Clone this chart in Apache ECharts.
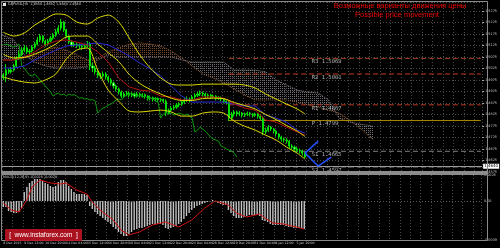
<!DOCTYPE html>
<html><head><meta charset="utf-8">
<script src="https://cdn.jsdelivr.net/npm/echarts@6/dist/echarts.min.js"></script>
<style>html,body{margin:0;padding:0;background:#000;}#c{width:500px;height:248px;}</style>
</head><body><div id="c"></div>
<script>
// ---------- DATA ----------
const xTickLabels = ["8 Dec 2015","9 Dec 12:00","10 Dec 20:00","14 Dec 04:00","15 Dec 12:00","16 Dec 20:00","18 Dec 04:00","21 Dec 12:00","22 Dec 20:00","24 Dec 04:00","28 Dec 12:00","29 Dec 20:00","31 Dec 04:00","4 Jan 12:00","5 Jan 20:00"];
const barsPerLabel = 8;
const slotCount = 183;
const priceMin = 1.4575, priceMax = 1.5314, priceStep = 0.005;
// [open, close, low, high]
const ohlc = [
[1.4985,1.4996,1.4975,1.5005],[1.4996,1.5018,1.4966,1.5044],[1.5018,1.5010,1.5001,1.5027],[1.5010,1.5018,1.5003,1.5031],
[1.5018,1.5036,1.5012,1.5045],[1.5036,1.5070,1.5030,1.5079],[1.5070,1.5088,1.5062,1.5101],[1.5088,1.5105,1.5079,1.5118],
[1.5105,1.5114,1.5096,1.5127],[1.5114,1.5097,1.5088,1.5122],[1.5097,1.5101,1.5085,1.5110],[1.5101,1.5118,1.5094,1.5127],
[1.5118,1.5131,1.5110,1.5140],[1.5131,1.5149,1.5125,1.5162],[1.5149,1.5166,1.5140,1.5175],[1.5166,1.5144,1.5135,1.5170],
[1.5144,1.5131,1.5120,1.5150],[1.5131,1.5144,1.5125,1.5153],[1.5144,1.5157,1.5138,1.5166],[1.5157,1.5170,1.5150,1.5179],
[1.5170,1.5184,1.5162,1.5196],[1.5184,1.5201,1.5175,1.5214],[1.5201,1.5227,1.5190,1.5240],[1.5227,1.5192,1.5183,1.5231],
[1.5192,1.5166,1.5157,1.5197],[1.5166,1.5140,1.5131,1.5170],[1.5140,1.5127,1.5118,1.5148],[1.5127,1.5131,1.5118,1.5140],
[1.5131,1.5127,1.5114,1.5138],[1.5127,1.5123,1.5110,1.5135],[1.5123,1.5118,1.5105,1.5131],[1.5118,1.5123,1.5110,1.5133],
[1.5123,1.5131,1.5116,1.5144],[1.5131,1.5036,1.5018,1.5140],[1.5036,1.5027,1.5010,1.5049],[1.5027,1.5010,1.4999,1.5036],
[1.5010,1.4996,1.4985,1.5018],[1.4996,1.4992,1.4979,1.5005],[1.4992,1.5001,1.4985,1.5012],[1.5001,1.4988,1.4977,1.5009],
[1.4988,1.4975,1.4964,1.4994],[1.4975,1.4962,1.4951,1.4983],[1.4962,1.4949,1.4938,1.4968],[1.4949,1.4936,1.4925,1.4955],
[1.4936,1.4923,1.4912,1.4942],[1.4923,1.4905,1.4896,1.4929],[1.4905,1.4914,1.4899,1.4922],[1.4914,1.4918,1.4905,1.4927],
[1.4918,1.4909,1.4899,1.4925],[1.4909,1.4914,1.4901,1.4922],[1.4914,1.4905,1.4896,1.4920],[1.4905,1.4914,1.4899,1.4923],
[1.4914,1.4909,1.4899,1.4920],[1.4909,1.4911,1.4899,1.4918],[1.4911,1.4905,1.4894,1.4916],[1.4905,1.4896,1.4886,1.4909],
[1.4896,1.4898,1.4886,1.4905],[1.4898,1.4892,1.4881,1.4903],[1.4892,1.4894,1.4883,1.4901],[1.4894,1.4888,1.4879,1.4899],
[1.4888,1.4890,1.4879,1.4896],[1.4890,1.4883,1.4875,1.4894],[1.4883,1.4831,1.4818,1.4890],[1.4831,1.4844,1.4825,1.4851],
[1.4844,1.4853,1.4836,1.4862],[1.4853,1.4857,1.4844,1.4866],[1.4857,1.4866,1.4849,1.4875],[1.4866,1.4870,1.4857,1.4879],
[1.4870,1.4879,1.4862,1.4888],[1.4879,1.4888,1.4870,1.4896],[1.4888,1.4892,1.4879,1.4903],[1.4892,1.4888,1.4877,1.4899],
[1.4888,1.4901,1.4881,1.4909],[1.4901,1.4909,1.4892,1.4918],[1.4909,1.4914,1.4901,1.4923],[1.4914,1.4918,1.4905,1.4929],
[1.4918,1.4914,1.4903,1.4925],[1.4914,1.4905,1.4896,1.4920],[1.4905,1.4909,1.4896,1.4916],[1.4909,1.4901,1.4892,1.4914],
[1.4901,1.4905,1.4894,1.4912],[1.4905,1.4896,1.4886,1.4909],[1.4896,1.4898,1.4888,1.4905],[1.4898,1.4892,1.4881,1.4903],
[1.4892,1.4883,1.4873,1.4896],[1.4883,1.4879,1.4868,1.4890],[1.4879,1.4809,1.4796,1.4886],[1.4809,1.4827,1.4801,1.4836],
[1.4827,1.4836,1.4818,1.4844],[1.4836,1.4827,1.4816,1.4842],[1.4827,1.4831,1.4818,1.4840],[1.4831,1.4822,1.4812,1.4836],
[1.4822,1.4827,1.4814,1.4833],[1.4827,1.4831,1.4818,1.4838],[1.4831,1.4827,1.4816,1.4836],[1.4827,1.4822,1.4812,1.4831],
[1.4822,1.4827,1.4814,1.4833],[1.4827,1.4818,1.4807,1.4831],[1.4818,1.4809,1.4798,1.4825],[1.4809,1.4749,1.4735,1.4818],
[1.4749,1.4757,1.4740,1.4768],[1.4757,1.4770,1.4749,1.4779],[1.4770,1.4762,1.4753,1.4775],[1.4762,1.4753,1.4742,1.4766],
[1.4753,1.4740,1.4729,1.4757],[1.4740,1.4727,1.4716,1.4744],[1.4727,1.4718,1.4707,1.4733],[1.4718,1.4714,1.4703,1.4725],
[1.4714,1.4709,1.4699,1.4722],[1.4709,1.4688,1.4677,1.4714],[1.4688,1.4683,1.4673,1.4696],[1.4683,1.4675,1.4664,1.4690],
[1.4675,1.4670,1.4660,1.4683],[1.4670,1.4666,1.4655,1.4677],[1.4666,1.4657,1.4647,1.4670],[1.4657,1.4640,1.4636,1.4662]
];
const bandIdx = [0,4,8,12,16,20,24,28,32,36,40,44,48,52,56,60,64,68,72,76,80,84,88,92,96,100,104,108,112,115];
const bbUpper = [1.5183,1.5166,1.5179,1.5214,1.5240,1.5262,1.5257,1.5227,1.5218,1.5244,1.5257,1.5227,1.5157,1.5084,1.5027,1.4984,1.4957,1.4953,1.4953,1.4957,1.4957,1.4957,1.4957,1.4953,1.4940,1.4914,1.4892,1.4870,1.4849,1.4827];
const bbMiddle = [1.5086,1.5071,1.5073,1.5088,1.5107,1.5131,1.5162,1.5166,1.5166,1.5131,1.5094,1.5055,1.4999,1.4960,1.4934,1.4914,1.4896,1.4886,1.4886,1.4894,1.4896,1.4894,1.4877,1.4864,1.4849,1.4825,1.4803,1.4777,1.4753,1.4729];
const bbLower = [1.4988,1.4975,1.4966,1.4962,1.4975,1.5001,1.5066,1.5105,1.5114,1.5018,1.4931,1.4883,1.4840,1.4836,1.4840,1.4844,1.4836,1.4818,1.4818,1.4831,1.4836,1.4831,1.4796,1.4774,1.4757,1.4735,1.4714,1.4683,1.4657,1.4631];
const tenkan = [1.5062,1.5062,1.5075,1.5097,1.5127,1.5144,1.5149,1.5140,1.5127,1.5097,1.5053,1.4984,1.4945,1.4931,1.4927,1.4905,1.4901,1.4888,1.4888,1.4901,1.4901,1.4896,1.4870,1.4853,1.4844,1.4801,1.4792,1.4770,1.4749,1.4735];
const kijun = [1.5027,1.5027,1.5036,1.5062,1.5084,1.5105,1.5123,1.5127,1.5131,1.5136,1.5127,1.5105,1.5079,1.5049,1.5023,1.4992,1.4949,1.4905,1.4879,1.4879,1.4879,1.4879,1.4870,1.4862,1.4862,1.4822,1.4809,1.4792,1.4757,1.4744];
const chikouShift = 26;
const cloudIdx = [0,4,8,12,16,20,24,28,32,36,40,44,48,52,56,60,64,68,72,76,80,84,88,92,96,100,104,108,112,116,120,124,128,132,136,141];
const spanA = [1.5062,1.5062,1.5071,1.5084,1.5105,1.5118,1.5105,1.5084,1.5062,1.5071,1.5097,1.5114,1.5131,1.5136,1.5131,1.5123,1.5101,1.5071,1.5036,1.5001,1.4984,1.4962,1.4936,1.4909,1.4888,1.4888,1.4888,1.4888,1.4879,1.4866,1.4857,1.4844,1.4831,1.4801,1.4766,1.4714];
const spanB = [1.5170,1.5149,1.5084,1.5053,1.5036,1.5027,1.5027,1.5027,1.5032,1.5062,1.5084,1.5075,1.5075,1.5075,1.5075,1.5075,1.5075,1.5062,1.5053,1.5053,1.5053,1.5053,1.5018,1.5018,1.5018,1.5010,1.4975,1.4953,1.4931,1.4923,1.4918,1.4888,1.4809,1.4792,1.4783,1.4774];
const macdHist = [-0.0006,-0.0006,-0.0010,-0.0011,-0.0012,-0.0012,-0.0011,-0.0007,0.0009,0.0014,0.0018,0.0020,0.0022,0.0022,0.0022,0.0020,
0.0018,0.0017,0.0015,0.0014,0.0015,0.0019,0.0021,0.0021,0.0019,0.0015,0.0012,0.0009,0.0007,0.0007,0.0007,0.0007,
0.0006,-0.0005,-0.0008,-0.0011,-0.0013,-0.0015,-0.0017,-0.0019,-0.0021,-0.0023,-0.0026,-0.0028,-0.0031,-0.0033,-0.0035,-0.0035,
-0.0033,-0.0031,-0.0029,-0.0028,-0.0027,-0.0027,-0.0026,-0.0025,-0.0024,-0.0023,-0.0023,-0.0023,-0.0023,-0.0024,-0.0027,-0.0028,
-0.0027,-0.0026,-0.0025,-0.0023,-0.0021,-0.0018,-0.0015,-0.0012,-0.0009,-0.0007,-0.0005,-0.0004,-0.0003,-0.0002,-0.0001,-0.00005,
0.0001,-0.00005,-0.0002,-0.0003,-0.0004,-0.0004,-0.0009,-0.0012,-0.0015,-0.0017,-0.0017,-0.0017,-0.0016,-0.0015,-0.0014,-0.0014,
-0.0014,-0.0014,-0.0015,-0.0019,-0.0020,-0.0021,-0.0023,-0.0024,-0.0024,-0.0024,-0.0024,-0.0024,-0.0025,-0.0026,-0.0026,-0.0027,
-0.0027,-0.0027,-0.0027,-0.0028];
const signalIdx = [0,3,6,9,11,14,18,22,24,28,32,34,37,42,45,48,52,57,62,67,72,77,81,86,89,93,98,100,103,107,112,115];
const signalVal = [-0.0002,-0.0009,-0.0011,0.0001,0.0014,0.0021,0.0018,0.0017,0.0018,0.0011,0.0007,-0.0001,-0.0009,-0.0019,-0.0029,-0.0034,-0.0031,-0.0024,-0.0021,-0.0026,-0.0019,-0.0007,0.0000,-0.0004,-0.0012,-0.0016,-0.0013,-0.0017,-0.0022,-0.0023,-0.0026,-0.0028];
const macdMin = -0.0039, macdMax = 0.0026;
const pivotNames = ["R3","R2","R1","P","S1","S2"];
const pivotValues = [1.5069,1.5001,1.4867,1.4799,1.4665,1.4597];
const pivotStartBar = 86, pivotLabelBar = 117;
const lastPrice = 1.4640;
const forecastUp = [[115,1.4657],[120,1.4709]];
const forecastDown = [[115,1.4657],[120,1.4601],[125,1.4640]];
const headerText = "GBPUSD,H4  1.4650 1.4652 1.4640 1.4640";
const macdText = "MACD(12,26,9) -0.0025 -0.0028";
const titleRu = "Возможные варианты движения цены";
const titleEn = "Possible price movement";

// ---------- BUILD ----------
const cats = Array.from({length: slotCount}, (_, i) => String(i));
const pair = (idx, vals) => idx.map((b, k) => [b, vals[k]]);
const chikou = ohlc.slice(chikouShift).map((r, i) => [i, r[1]]);
const cloudRows = cloudIdx.map((b, k) => [b, spanA[k], spanB[k]]);

function patternOf(color){
  const cv = document.createElement('canvas'); cv.width = 2; cv.height = 2;
  const g = cv.getContext('2d'); g.fillStyle = color; g.fillRect(0,0,1,1);
  return {image: cv, repeat: 'repeat'};
}
const sandyPat = patternOf('#74462a');
const thistlePat = patternOf('#716a71');

const mainSeries = [];
mainSeries.push({
  type: 'custom', xAxisIndex: 0, yAxisIndex: 0, z: 1, silent: true,
  data: cloudRows.slice(0, -1),
  encode: {x: 0, y: [1, 2]},
  renderItem(params, api){
    const k = params.dataIndex, r0 = cloudRows[k], r1 = cloudRows[k+1];
    const a0 = api.coord([r0[0], r0[1]]), b0 = api.coord([r0[0], r0[2]]);
    const a1 = api.coord([r1[0], r1[1]]), b1 = api.coord([r1[0], r1[2]]);
    const bull = (r0[1] + r1[1]) >= (r0[2] + r1[2]);
    return {type: 'polygon', shape: {points: [a0, a1, b1, b0]}, style: {fill: bull ? sandyPat : thistlePat}};
  }
});
const lineS = (data, color, extra) => Object.assign({
  type: 'line', xAxisIndex: 0, yAxisIndex: 0, data, showSymbol: false, symbol: 'none', silent: true,
  lineStyle: {color, width: 1}, z: 3, animation: false
}, extra || {});
mainSeries.push(lineS(pair(cloudIdx, spanA), '#9a623a', {lineStyle: {color: '#9a623a', width: 1, type: [1, 1]}, z: 2}));
mainSeries.push(lineS(pair(cloudIdx, spanB), '#8e828e', {lineStyle: {color: '#8e828e', width: 1, type: [1, 1]}, z: 2}));
mainSeries.push({
  type: 'candlestick', xAxisIndex: 0, yAxisIndex: 0, data: ohlc, barWidth: 1.6, z: 3, silent: true,
  itemStyle: {color: '#00b000', color0: '#ffffff', borderColor: '#00e000', borderColor0: '#00e000', borderWidth: 1},
  markLine: {
    silent: true, symbol: 'none', animation: false,
    lineStyle: {color: '#9a9a9a', width: 1, type: 'solid'},
    label: {show: true, position: 'end', distance: 1, formatter: lastPrice.toFixed(4),
      color: '#000', backgroundColor: '#fff', fontSize: 4, padding: [1, 1, 0, 1], fontFamily: 'DejaVu Sans'},
    data: [{yAxis: lastPrice}]
  }
});
mainSeries.push(lineS(chikou, '#0a9a0a', {z: 4}));
mainSeries.push(lineS(pair(bandIdx, kijun), '#2b2bd8', {z: 4}));
mainSeries.push(lineS(pair(bandIdx, tenkan), '#b01010', {z: 4}));
[bbUpper, bbMiddle, bbLower].forEach((vals) => {
  mainSeries.push(lineS(pair(bandIdx, vals), '#e0dc00', {smooth: 0.3, z: 5}));
});
const pivotColors = ['#a8401c', '#c03a1c', '#b83a22', '#a88a00', '#808080', '#808080'];
pivotNames.forEach((nm, k) => {
  const v = pivotValues[k];
  mainSeries.push({
    type: 'line', xAxisIndex: 0, yAxisIndex: 0, symbol: 'none', silent: true, z: 2, animation: false,
    lineStyle: {color: pivotColors[k], width: 1, type: nm === 'P' ? 'solid' : [5, 3]},
    data: [[pivotStartBar, v], [slotCount - 1, v]]
  });
});
mainSeries.push({
  type: 'scatter', xAxisIndex: 0, yAxisIndex: 0, silent: true, z: 7, symbolSize: 1,
  itemStyle: {color: 'rgba(0,0,0,0)'},
  data: pivotValues.map((v) => [pivotLabelBar, v]),
  label: {show: true, position: 'right', distance: 1, offset: [0, 3.5], color: '#d8d8d8', fontSize: 5.5, fontFamily: 'DejaVu Sans Mono',
    formatter: (p) => pivotNames[p.dataIndex] + ' ' + pivotValues[p.dataIndex].toFixed(4)}
});
mainSeries.push(lineS(forecastUp, '#2050ff', {lineStyle: {color: '#2050ff', width: 1.5}, z: 6}));
mainSeries.push(lineS(forecastDown, '#2050ff', {lineStyle: {color: '#2050ff', width: 1.5}, z: 6}));

const macdSeries = [
  {type: 'bar', xAxisIndex: 1, yAxisIndex: 1, data: macdHist, barWidth: 1.4, silent: true,
   itemStyle: {color: '#c4c4c4'},
   markLine: {silent: true, symbol: 'none', label: {show: false}, lineStyle: {color: '#5a5a5a', type: [1, 2], width: 1}, data: [{yAxis: 0}]}},
  {type: 'line', xAxisIndex: 1, yAxisIndex: 1, data: pair(signalIdx, signalVal), symbol: 'none', silent: true,
   lineStyle: {color: '#d01010', width: 1}, z: 4}
];

const gridDot = {show: true, lineStyle: {color: '#4a4a4a', type: [1, 2], width: 1}};
const xCommon = {
  type: 'category', data: cats, boundaryGap: true,
  axisTick: {show: false}, axisLine: {show: false},
  splitLine: Object.assign({interval: (i) => i % 4 === 0}, gridDot)
};
const option = {
  backgroundColor: '#000', animation: false,
  grid: [
    {left: 2, right: 13, top: 2, height: 170},
    {left: 2, right: 13, top: 175, height: 65}
  ],
  xAxis: [
    Object.assign({gridIndex: 0, axisLabel: {show: false}}, xCommon),
    Object.assign({gridIndex: 1, axisLabel: {show: true, interval: 0, align: 'left', margin: 2, color: '#c8c8c8', fontSize: 3.2, fontFamily: 'DejaVu Sans',
      formatter: (v, i) => (i % barsPerLabel === 0 && xTickLabels[i / barsPerLabel]) ? xTickLabels[i / barsPerLabel] : ''}}, xCommon)
  ],
  yAxis: [
    {gridIndex: 0, type: 'value', position: 'right', min: priceMin, max: priceMax, interval: priceStep,
     axisLine: {show: false}, axisTick: {show: true, length: 2, lineStyle: {color: '#aaa'}},
     axisLabel: {color: '#c8c8c8', fontSize: 3.4, margin: 3, fontFamily: 'DejaVu Sans', showMaxLabel: false, formatter: (v) => v.toFixed(4)},
     splitLine: gridDot},
    {gridIndex: 1, type: 'value', position: 'right', min: macdMin, max: macdMax, interval: 0.0013,
     axisLine: {show: false}, axisTick: {show: false}, splitLine: {show: false},
     axisLabel: {color: '#c8c8c8', fontSize: 3.4, margin: 3, fontFamily: 'DejaVu Sans', showMinLabel: true, showMaxLabel: true,
       formatter: (v) => Math.abs(v) < 1e-9 ? '0.00' : (Math.abs(v - macdMax) < 1e-9 ? macdMax.toFixed(4) : (Math.abs(v - macdMin) < 1e-9 ? macdMin.toFixed(4) : ''))}}
  ],
  series: mainSeries.concat(macdSeries),
  graphic: [
    {type: 'rect', shape: {x: 1.5, y: 1.5, width: 486, height: 170}, style: {fill: 'none', stroke: '#8a8a8a', lineWidth: 1}, z: 10, silent: true},
    {type: 'rect', shape: {x: 1, y: 171, width: 487, height: 3}, style: {fill: '#8c8c8c'}, z: 10, silent: true},
    {type: 'rect', shape: {x: 1.5, y: 174.5, width: 486, height: 66}, style: {fill: 'none', stroke: '#8a8a8a', lineWidth: 1}, z: 10, silent: true},
    {type: 'rect', shape: {x: 3, y: 3, width: 3, height: 3}, style: {fill: '#e0e0e0'}, z: 10, silent: true},
    {type: 'text', x: 8, y: 4.5, z: 10, silent: true, style: {text: headerText, fill: '#d0d0d0', font: '3.4px DejaVu Sans', verticalAlign: 'middle', textVerticalAlign: 'middle'}},
    {type: 'text', x: 3, y: 177.5, z: 10, silent: true, style: {text: macdText, fill: '#d0d0d0', font: '3.4px DejaVu Sans', verticalAlign: 'middle', textVerticalAlign: 'middle'}},
    {type: 'text', x: 400, y: 5.5, z: 10, silent: true, style: {text: titleRu, fill: '#ee0000', font: '7.5px Liberation Sans', align: 'center', textAlign: 'center', verticalAlign: 'middle', textVerticalAlign: 'middle'}},
    {type: 'text', x: 397, y: 14.5, z: 10, silent: true, style: {text: titleEn, fill: '#ee0000', font: '7.5px Liberation Sans', align: 'center', textAlign: 'center', verticalAlign: 'middle', textVerticalAlign: 'middle'}},
    {type: 'rect', shape: {x: 5, y: 229, width: 77, height: 12, r: 1}, style: {fill: 'rgba(190,20,35,0.9)'}, z: 10, silent: true},
    {type: 'text', x: 43.5, y: 235, z: 11, silent: true, style: {text: '[  www.instaforex.com  ]', fill: '#ffffff', font: '6.5px Liberation Sans', align: 'center', textAlign: 'center', verticalAlign: 'middle', textVerticalAlign: 'middle'}}
  ]
};
const chart = echarts.init(document.getElementById('c'), null, {renderer: 'canvas'});
chart.setOption(option);
</script>
</body></html>
